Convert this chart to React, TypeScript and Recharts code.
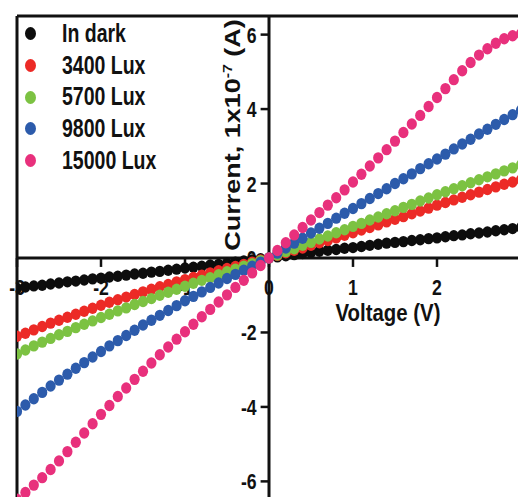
import React from 'react';
import { ScatterChart, Scatter, XAxis, YAxis, ReferenceLine } from 'recharts';

// bias sweep, -3 V to 3 V in 0.1 V steps
const VOLTAGE = [
  -3, -2.9, -2.8, -2.7, -2.6, -2.5, -2.4, -2.3, -2.2, -2.1, -2, -1.9, -1.8, -1.7, -1.6, -1.5, -1.4, -1.3, -1.2, -1.1,
  -1, -0.9, -0.8, -0.7, -0.6, -0.5, -0.4, -0.3, -0.2, -0.1, 0, 0.1, 0.2, 0.3, 0.4, 0.5, 0.6, 0.7, 0.8, 0.9,
  1, 1.1, 1.2, 1.3, 1.4, 1.5, 1.6, 1.7, 1.8, 1.9, 2, 2.1, 2.2, 2.3, 2.4, 2.5, 2.6, 2.7, 2.8, 2.9, 3,
];

// current in units of 1e-7 A
const DARK = [
  -0.81, -0.78, -0.75, -0.73, -0.7, -0.67, -0.64, -0.62, -0.59, -0.56, -0.54, -0.51, -0.49, -0.46, -0.43, -0.41, -0.38, -0.36, -0.33, -0.3,
  -0.27, -0.25, -0.22, -0.19, -0.17, -0.14, -0.11, -0.08, -0.05, -0.02, 0, 0.03, 0.06, 0.09, 0.12, 0.15, 0.18, 0.21, 0.23, 0.26,
  0.28, 0.31, 0.34, 0.37, 0.4, 0.42, 0.44, 0.47, 0.49, 0.52, 0.54, 0.57, 0.6, 0.62, 0.65, 0.67, 0.7, 0.73, 0.76, 0.79, 0.82,
];
const LUX_3400 = [
  -2.1, -2.02, -1.93, -1.84, -1.75, -1.67, -1.59, -1.51, -1.43, -1.35, -1.27, -1.19, -1.12, -1.05, -0.98, -0.91, -0.84, -0.77, -0.71, -0.64,
  -0.58, -0.52, -0.46, -0.4, -0.34, -0.28, -0.23, -0.17, -0.11, -0.05, 0, 0.07, 0.14, 0.21, 0.27, 0.34, 0.41, 0.47, 0.54, 0.61,
  0.68, 0.75, 0.82, 0.89, 0.97, 1.04, 1.11, 1.19, 1.26, 1.34, 1.42, 1.49, 1.56, 1.63, 1.7, 1.77, 1.84, 1.91, 1.98, 2.04, 2.1,
];
const LUX_5700 = [
  -2.58, -2.47, -2.36, -2.26, -2.16, -2.06, -1.97, -1.87, -1.78, -1.69, -1.6, -1.51, -1.42, -1.34, -1.25, -1.17, -1.09, -1.0, -0.92, -0.84,
  -0.76, -0.68, -0.6, -0.53, -0.45, -0.37, -0.3, -0.22, -0.15, -0.07, 0, 0.08, 0.17, 0.25, 0.34, 0.42, 0.51, 0.59, 0.68, 0.76,
  0.85, 0.93, 1.02, 1.1, 1.19, 1.27, 1.36, 1.44, 1.53, 1.61, 1.7, 1.78, 1.86, 1.94, 2.02, 2.1, 2.18, 2.26, 2.34, 2.42, 2.5,
];
const LUX_9800 = [
  -4.12, -3.95, -3.78, -3.61, -3.44, -3.28, -3.12, -2.96, -2.81, -2.66, -2.51, -2.36, -2.22, -2.08, -1.94, -1.8, -1.67, -1.54, -1.41, -1.28,
  -1.15, -1.03, -0.91, -0.79, -0.67, -0.55, -0.44, -0.33, -0.22, -0.11, 0, 0.13, 0.27, 0.4, 0.53, 0.67, 0.8, 0.93, 1.07, 1.2,
  1.33, 1.46, 1.6, 1.73, 1.86, 2.0, 2.13, 2.26, 2.4, 2.53, 2.66, 2.79, 2.93, 3.06, 3.19, 3.33, 3.46, 3.59, 3.72, 3.85, 3.97,
];
const LUX_15000 = [
  -6.48, -6.3, -6.1, -5.9, -5.68, -5.45, -5.2, -4.95, -4.7, -4.45, -4.2, -3.96, -3.72, -3.49, -3.26, -3.04, -2.82, -2.6, -2.39, -2.18,
  -1.98, -1.78, -1.58, -1.38, -1.18, -0.99, -0.79, -0.6, -0.4, -0.2, 0, 0.2, 0.41, 0.62, 0.82, 1.02, 1.22, 1.42, 1.62, 1.83,
  2.04, 2.25, 2.47, 2.69, 2.91, 3.14, 3.37, 3.6, 3.83, 4.07, 4.31, 4.55, 4.79, 5.03, 5.25, 5.45, 5.62, 5.77, 5.89, 5.97, 6.02,
];

const SERIES_NAMES = ['In dark', '3400 Lux', '5700 Lux', '9800 Lux', '15000 Lux'];
const SERIES_VALUES = [DARK, LUX_3400, LUX_5700, LUX_9800, LUX_15000];
const SERIES_COLORS = ['#0d0d0d', '#ec2a26', '#7cc242', '#2c5bab', '#e8307c'];

// the 3 V tick sits past the cropped right edge, so it carries no label
const X_TICKS = [-3, -2, -1, 0, 1, 2, 3];
const X_TICK_LABELS = ['-3', '-2', '-1', '0', '1', '2', ''];
const Y_TICKS = [-6, -4, -2, 0, 2, 4, 6];
const Y_TICK_LABELS = ['-6', '-4', '-2', '0', '2', '4', '6'];

const FONT = "'Liberation Sans', Arial, sans-serif";

const Dot = (props: any) => (
  <ellipse cx={props.cx} cy={props.cy} rx={5.1} ry={5.7} fill={props.fill} />
);

const xTickLabel = (text: string) => (props: any) => {
  const vb = props.viewBox || {};
  const x = vb.x ?? 0;
  const y = (vb.y ?? 0) + (vb.height ?? 0) + 28;
  return (
    <text transform={`translate(${x},${y}) scale(0.8,1)`} textAnchor="middle" fontSize={22} fontWeight="bold" fontFamily={FONT} fill="#111">
      {text}
    </text>
  );
};

const yTickLabel = (text: string) => (props: any) => {
  const vb = props.viewBox || {};
  const x = (vb.x ?? 0) - 4;
  const y = (vb.y ?? 0) + 8;
  return (
    <text transform={`translate(${x},${y}) scale(0.8,1)`} textAnchor="end" fontSize={22} fontWeight="bold" fontFamily={FONT} fill="#111">
      {text}
    </text>
  );
};

const yTitle = (props: any) => {
  const vb = props.viewBox || {};
  const x = (vb.x ?? 0) - 29;
  const y = (vb.y ?? 0) + 119;
  return (
    <text transform={`translate(${x},${y}) scale(0.85,1) rotate(-90)`} textAnchor="middle" fontSize={27} fontWeight="bold" fontFamily={FONT} fill="#111">
      Current, 1x10
      <tspan dy={-10} fontSize={16}>-7</tspan>
      <tspan dy={10}> (A)</tspan>
    </text>
  );
};

const xTitle = (props: any) => {
  const vb = props.viewBox || {};
  const x = (vb.x ?? 0) + 371;
  const y = (vb.y ?? 0) + 63;
  return (
    <text transform={`translate(${x},${y}) scale(0.85,1)`} textAnchor="middle" fontSize={24} fontWeight="bold" fontFamily={FONT} fill="#111">
      Voltage (V)
    </text>
  );
};

export default function App() {
  const series = SERIES_NAMES.map((name, i) => ({
    name,
    color: SERIES_COLORS[i],
    data: VOLTAGE.map((v, j) => ({ x: v, y: SERIES_VALUES[i][j] })),
  }));

  return (
    <div style={{ position: 'absolute', left: 0, top: 0, width: 518, height: 497, overflow: 'hidden', background: '#fff' }}>
      <ScatterChart width={540} height={520} margin={{ top: 16, right: 19, bottom: 20, left: 17 }}>
        <XAxis type="number" dataKey="x" domain={[-3, 3]} allowDataOverflow hide />
        <YAxis type="number" dataKey="y" domain={[-6.5, 6.5]} allowDataOverflow hide />
        {/* frame: top and left edges of the plot box */}
        <ReferenceLine y={6.5} stroke="#111" strokeWidth={3} />
        <ReferenceLine x={-3} stroke="#111" strokeWidth={3} />
        <ReferenceLine y={0} stroke="#111" strokeWidth={3} label={xTitle} />
        <ReferenceLine x={0} stroke="#111" strokeWidth={3} label={yTitle} />
        {X_TICKS.map((t, i) => (
          <ReferenceLine key={`xt${t}`} segment={[{ x: t, y: 0 }, { x: t, y: -0.24 }]} stroke="#111" strokeWidth={2.5}
            label={xTickLabel(X_TICK_LABELS[i])} />
        ))}
        {Y_TICKS.map((t, i) => (
          <ReferenceLine key={`yt${t}`} segment={[{ x: -0.1, y: t }, { x: 0, y: t }]} stroke="#111" strokeWidth={2.5}
            label={yTickLabel(Y_TICK_LABELS[i])} />
        ))}
        {series.map((s) => (
          <Scatter key={s.name} name={s.name} data={s.data} fill={s.color} shape={Dot} isAnimationActive={false} />
        ))}
      </ScatterChart>
      <div style={{ position: 'absolute', left: 0, top: 18, fontFamily: FONT, fontWeight: 'bold', color: '#111' }}>
        {series.map((s) => (
          <div key={s.name} style={{ position: 'relative', height: 31.7, width: 200 }}>
            <span style={{ position: 'absolute', left: 24.5, top: 9.3, width: 11, height: 13, borderRadius: '50%', background: s.color }} />
            <span style={{ position: 'absolute', left: 62, top: 0, fontSize: 25, lineHeight: '31.7px', whiteSpace: 'nowrap',
              transform: 'scaleX(0.78)', transformOrigin: 'left center' }}>{s.name}</span>
          </div>
        ))}
      </div>
    </div>
  );
}
